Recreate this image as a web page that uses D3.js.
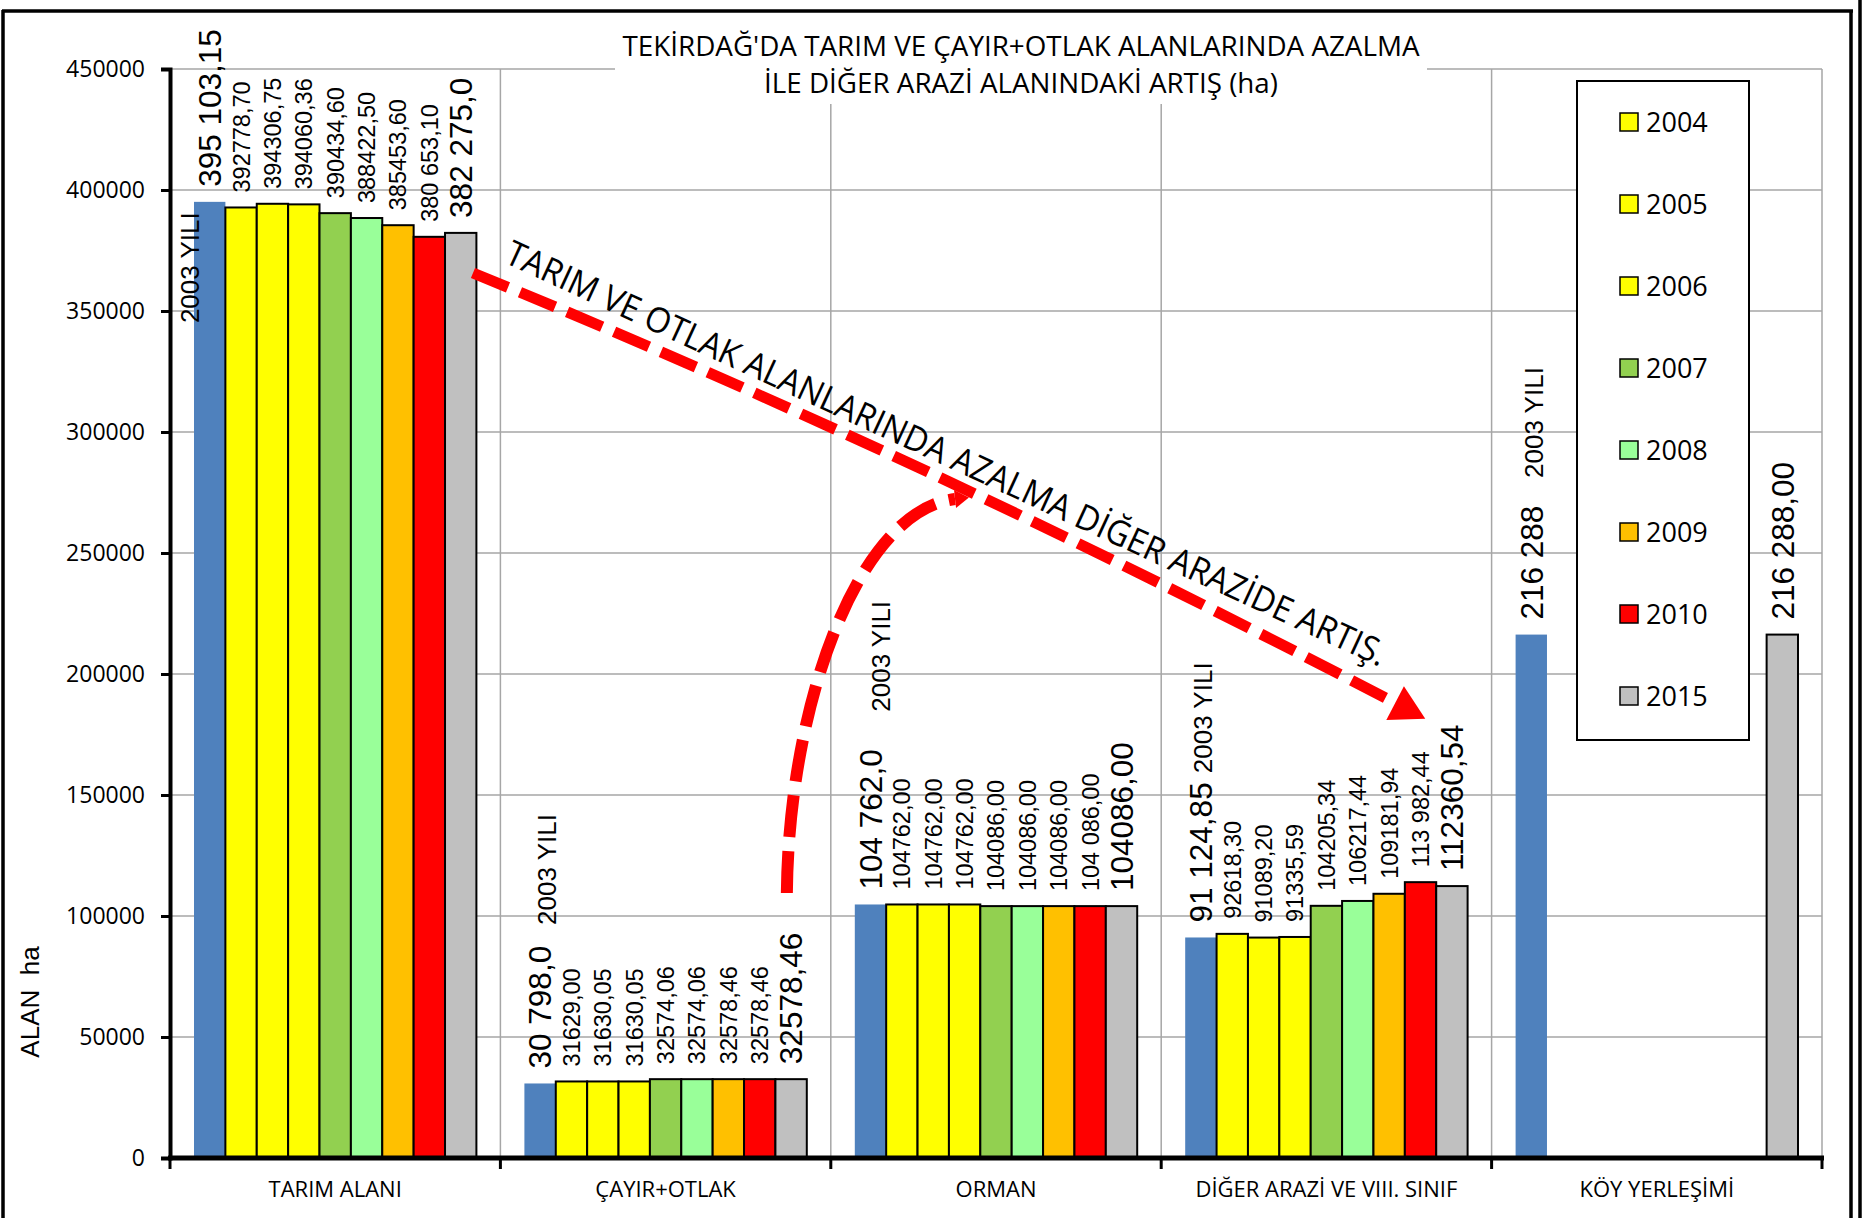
<!DOCTYPE html>
<html>
<head>
<meta charset="utf-8">
<title>Tekirdağ arazi kullanımı</title>
<script src="https://cdn.jsdelivr.net/npm/d3@7/dist/d3.min.js"></script>
<style>
    body { margin: 0; background: #fff; }
</style>
</head>
<body>
<div id="chart"></div>
<script>
// --- data ---
const categories = ["TARIM ALANI", "ÇAYIR+OTLAK", "ORMAN", "DİĞER ARAZİ VE VIII. SINIF", "KÖY YERLEŞİMİ"];
const years = ["2003", "2004", "2005", "2006", "2007", "2008", "2009", "2010", "2015"];

const area2003 = [395103.15, 30798.0, 104762.0, 91124.85, 216288];
const area2004 = [392778.70, 31629.00, 104762.00, 92618.30, null];
const area2005 = [394306.75, 31630.05, 104762.00, 91089.20, null];
const area2006 = [394060.36, 31630.05, 104762.00, 91335.59, null];
const area2007 = [390434.60, 32574.06, 104086.00, 104205.34, null];
const area2008 = [388422.50, 32574.06, 104086.00, 106217.44, null];
const area2009 = [385453.60, 32578.46, 104086.00, 109181.94, null];
const area2010 = [380653.10, 32578.46, 104086.00, 113982.44, null];
const area2015 = [382275.0, 32578.46, 104086.00, 112360.54, 216288.00];

const label2003 = ["395 103,15", "30 798,0", "104 762,0", "91 124,85", "216 288"];
const label2004 = ["392778,70", "31629,00", "104762,00", "92618,30", null];
const label2005 = ["394306,75", "31630,05", "104762,00", "91089,20", null];
const label2006 = ["394060,36", "31630,05", "104762,00", "91335,59", null];
const label2007 = ["390434,60", "32574,06", "104086,00", "104205,34", null];
const label2008 = ["388422,50", "32574,06", "104086,00", "106217,44", null];
const label2009 = ["385453,60", "32578,46", "104086,00", "109181,94", null];
const label2010 = ["380 653,10", "32578,46", "104 086,00", "113 982,44", null];
const label2015 = ["382 275,0", "32578,46", "104086,00", "112360,54", "216 288,00"];

const yTicks = [0, 50000, 100000, 150000, 200000, 250000, 300000, 350000, 400000, 450000];

const seriesValues = [area2003, area2004, area2005, area2006, area2007, area2008, area2009, area2010, area2015];
const seriesLabels = [label2003, label2004, label2005, label2006, label2007, label2008, label2009, label2010, label2015];
const barColors = ["#4F81BD", "#FFFF00", "#FFFF00", "#FFFF00", "#92D050", "#99FF99", "#FFC000", "#FF0000", "#C0C0C0"];

// "2003 YILI" notes: height (ha) where the text starts, side shift in px
const yiliAt = [345000, 96300, 184400, 159000, 281000];
const yiliShift = [-20, 7, 10, 2, 2];

// arrows, in [category position, ha]
const trendArrow = [[0.917, 365700], [2.27, 290500], [3.708, 188000]];
const bendArrow = [[1.867, 109500], [1.873, 189300], [2.088, 267800], [2.376, 272300]];
const trendText = [[1.008, 370250], [3.662, 202900]];

class LandUseChart {
    constructor(id) {
        this.id = id;
        this.width = 1865;
        this.height = 1218;
        this.margin = { top: 69, right: 43, bottom: 60, left: 170 };
        this.innerW = this.width - this.margin.left - this.margin.right;
        this.innerH = this.height - this.margin.top - this.margin.bottom;
    }

    initialize() {
        this.createSVG();
        this.setupScales();
    }

    createSVG() {
        this.svg = d3.select(this.id)
            .append("svg")
            .attr("width", this.width)
            .attr("height", this.height);

        this.g = this.svg.append("g")
            .attr("transform", `translate(${this.margin.left}, ${this.margin.top})`);
    }

    setupScales() {
        this.x0 = d3.scaleBand()
            .domain(categories)
            .range([0, this.innerW]);
        this.x1 = d3.scaleBand()
            .domain(years)
            .range([24, this.x0.bandwidth() - 24]);
        this.y = d3.scaleLinear()
            .domain([0, 450000])
            .range([this.innerH, 0]);
        this.xPos = d3.scaleLinear()
            .domain([0, categories.length])
            .range([0, this.innerW]);
    }

    pt(d) {
        return [this.xPos(d[0]), this.y(d[1])];
    }

    drawFrame() {
        const frame = this.svg.append("g").attr("class", "frame")
            .style("stroke", "#000")
            .style("stroke-width", 3.5);
        frame.append("line").attr("x1", 2).attr("x2", 1853).attr("y1", 11).attr("y2", 11);
        frame.append("line").attr("x1", 3).attr("x2", 3).attr("y1", 10).attr("y2", this.height);
        frame.append("line").attr("x1", 1851).attr("x2", 1851).attr("y1", 10).attr("y2", this.height);
        frame.append("line").attr("x1", 1860).attr("x2", 1860).attr("y1", 0).attr("y2", this.height);
    }

    drawGrid() {
        const grid = this.g.append("g").attr("class", "grid")
            .style("stroke", "#A6A6A6")
            .style("stroke-width", 1.5);

        grid.selectAll(".hgrid")
            .data(yTicks.slice(1))
            .enter().append("line")
            .attr("x1", 0)
            .attr("x2", this.innerW)
            .attr("y1", d => this.y(d))
            .attr("y2", d => this.y(d));

        grid.selectAll(".vgrid")
            .data(categories)
            .enter().append("line")
            .attr("x1", d => this.x0(d) + this.x0.bandwidth())
            .attr("x2", d => this.x0(d) + this.x0.bandwidth())
            .attr("y1", this.y(450000))
            .attr("y2", this.y(0));
    }

    drawBars() {
        const rows = [];
        seriesValues.forEach((vals, s) => {
            vals.forEach((v, c) => {
                if (v !== null) {
                    rows.push({ cat: categories[c], year: years[s], s, value: v, label: seriesLabels[s][c] });
                }
            });
        });
        this.rows = rows;

        this.g.append("g").attr("class", "bars")
            .selectAll("rect")
            .data(rows)
            .enter().append("rect")
            .attr("x", d => this.x0(d.cat) + this.x1(d.year))
            .attr("y", d => this.y(d.value))
            .attr("width", this.x1.bandwidth())
            .attr("height", d => this.y(0) - this.y(d.value))
            .style("fill", d => barColors[d.s])
            .style("stroke", d => d.s === 0 ? "none" : "#000")
            .style("stroke-width", 2);
    }

    drawAxes() {
        const yAxis = this.g.append("g")
            .attr("class", "y-axis")
            .call(d3.axisLeft(this.y).tickValues(yTicks).tickFormat(d3.format("d")).tickSize(9).tickPadding(16));
        yAxis.select(".domain").style("stroke", "#000").style("stroke-width", 4);
        yAxis.selectAll(".tick line").style("stroke", "#000").style("stroke-width", 3);
        yAxis.selectAll(".tick text")
            .style("font-family", "'Open Sans', sans-serif")
            .style("font-size", "23px")
            .style("fill", "#000");

        const xAxis = this.g.append("g")
            .attr("class", "x-axis")
            .attr("transform", `translate(0, ${this.innerH})`);
        xAxis.append("line")
            .attr("x1", -2).attr("x2", this.innerW + 2)
            .style("stroke", "#000").style("stroke-width", 5);
        xAxis.selectAll(".xtick")
            .data([0, 1, 2, 3, 4, 5])
            .enter().append("line")
            .attr("x1", d => this.xPos(d)).attr("x2", d => this.xPos(d))
            .attr("y1", 0).attr("y2", 11)
            .style("stroke", "#000").style("stroke-width", 3);
        xAxis.selectAll(".xlabel")
            .data(categories)
            .enter().append("text")
            .attr("x", d => this.x0(d) + this.x0.bandwidth() / 2)
            .attr("y", 39)
            .attr("text-anchor", "middle")
            .style("font-family", "'Open Sans', sans-serif")
            .style("font-size", "22px")
            .style("fill", "#000")
            .text(d => d);

        this.svg.append("text")
            .attr("transform", `translate(30, 1002) rotate(-90)`)
            .attr("text-anchor", "middle")
            .attr("dy", "0.36em")
            .style("font-family", "'Liberation Sans', Arial, sans-serif")
            .style("font-size", "26px")
            .style("white-space", "pre")
            .text("ALAN  ha");
    }

    drawTitle() {
        this.svg.append("rect")
            .attr("x", 615).attr("y", 20)
            .attr("width", 812).attr("height", 84)
            .style("fill", "#fff");
        const lines = ["TEKİRDAĞ'DA TARIM VE ÇAYIR+OTLAK ALANLARINDA AZALMA", "İLE DİĞER ARAZİ ALANINDAKİ ARTIŞ (ha)"];
        const widths = [797, 514];
        this.svg.selectAll(".title")
            .data(lines)
            .enter().append("text")
            .attr("class", "title")
            .attr("x", 1021)
            .attr("y", (d, i) => 56 + i * 37)
            .attr("text-anchor", "middle")
            .attr("textLength", (d, i) => widths[i])
            .attr("lengthAdjust", "spacingAndGlyphs")
            .style("font-family", "'Open Sans', sans-serif")
            .style("font-size", "26.5px")
            .style("fill", "#000")
            .text(d => d);
    }

    drawLegend() {
        const legend = this.svg.append("g")
            .attr("class", "legend")
            .attr("transform", "translate(1577, 81)");
        legend.append("rect")
            .attr("width", 172).attr("height", 659)
            .style("fill", "#fff")
            .style("stroke", "#000")
            .style("stroke-width", 2);

        const items = legend.selectAll(".legend-item")
            .data(years.slice(1))
            .enter().append("g")
            .attr("class", "legend-item")
            .attr("transform", (d, i) => `translate(0, ${41.5 + i * 82})`);
        items.append("rect")
            .attr("x", 43).attr("y", -9.5)
            .attr("width", 18).attr("height", 18)
            .style("fill", d => barColors[years.indexOf(d)])
            .style("stroke", "#000")
            .style("stroke-width", 1.5);
        items.append("text")
            .attr("x", 69)
            .attr("dy", "0.36em")
            .style("font-family", "'Open Sans', sans-serif")
            .style("font-size", "27px")
            .style("fill", "#000")
            .text(d => d);
    }

    drawLabels() {
        const big = s => s === 0 || s === seriesValues.length - 1;
        this.g.append("g").attr("class", "labels")
            .selectAll("text")
            .data(this.rows)
            .enter().append("text")
            .attr("transform", d => {
                const cx = this.x0(d.cat) + this.x1(d.year) + this.x1.bandwidth() / 2;
                return `translate(${cx}, ${this.y(d.value) - 15}) rotate(-90)`;
            })
            .attr("dy", "0.36em")
            .style("font-family", "'Liberation Sans', Arial, sans-serif")
            .style("font-size", d => big(d.s) ? "31.5px" : "23.5px")
            .style("fill", "#000")
            .style("white-space", "pre")
            .text(d => d.label);

        this.g.append("g").attr("class", "yili")
            .selectAll("text")
            .data(categories)
            .enter().append("text")
            .attr("transform", (d, i) => {
                const cx = this.x0(d) + this.x1(years[0]) + this.x1.bandwidth() / 2 + yiliShift[i];
                return `translate(${cx}, ${this.y(yiliAt[i])}) rotate(-90)`;
            })
            .attr("dy", "0.36em")
            .style("font-family", "'Liberation Sans', Arial, sans-serif")
            .style("font-size", "26px")
            .style("fill", "#000")
            .text("2003 YILI");
    }

    arrowHead(layer, from, to, len, half) {
        const dx = to[0] - from[0], dy = to[1] - from[1];
        const n = Math.hypot(dx, dy);
        const ux = dx / n, uy = dy / n;
        const tip = [to[0] + ux * len, to[1] + uy * len];
        const a = [to[0] - uy * half, to[1] + ux * half];
        const b = [to[0] + uy * half, to[1] - ux * half];
        layer.append("path")
            .attr("d", `M${a}L${tip}L${b}Z`)
            .style("fill", "#FF0000");
    }

    drawArrows() {
        const layer = this.g.append("g").attr("class", "arrows");

        const t = trendArrow.map(d => this.pt(d));
        const p1 = d3.path();
        p1.moveTo(...t[0]);
        p1.quadraticCurveTo(...t[1], ...t[2]);
        layer.append("path")
            .attr("d", p1.toString())
            .style("fill", "none")
            .style("stroke", "#FF0000")
            .style("stroke-width", 11)
            .style("stroke-dasharray", "38 13");
        this.arrowHead(layer, t[1], t[2], 34, 19);

        const b = bendArrow.map(d => this.pt(d));
        const p2 = d3.path();
        p2.moveTo(...b[0]);
        p2.bezierCurveTo(...b[1], ...b[2], ...b[3]);
        layer.append("path")
            .attr("d", p2.toString())
            .style("fill", "none")
            .style("stroke", "#FF0000")
            .style("stroke-width", 12)
            .style("stroke-dasharray", "42 14");
        this.arrowHead(layer, b[2], b[3], 14, 9);

        const s = this.pt(trendText[0]), e = this.pt(trendText[1]);
        const angle = Math.atan2(e[1] - s[1], e[0] - s[0]) * 180 / Math.PI;
        layer.append("text")
            .attr("transform", `translate(${s}) rotate(${angle})`)
            .attr("textLength", Math.hypot(e[0] - s[0], e[1] - s[1]))
            .attr("lengthAdjust", "spacingAndGlyphs")
            .style("font-family", "'Open Sans', sans-serif")
            .style("font-size", "35px")
            .style("fill", "#000")
            .text("TARIM VE OTLAK ALANLARINDA AZALMA DİĞER ARAZİDE ARTIŞ.");
    }

    render() {
        this.drawFrame();
        this.drawGrid();
        this.drawBars();
        this.drawAxes();
        this.drawTitle();
        this.drawLegend();
        this.drawLabels();
        this.drawArrows();
    }
}

const chart = new LandUseChart("#chart");
chart.initialize();
chart.render();
</script>
</body>
</html>
